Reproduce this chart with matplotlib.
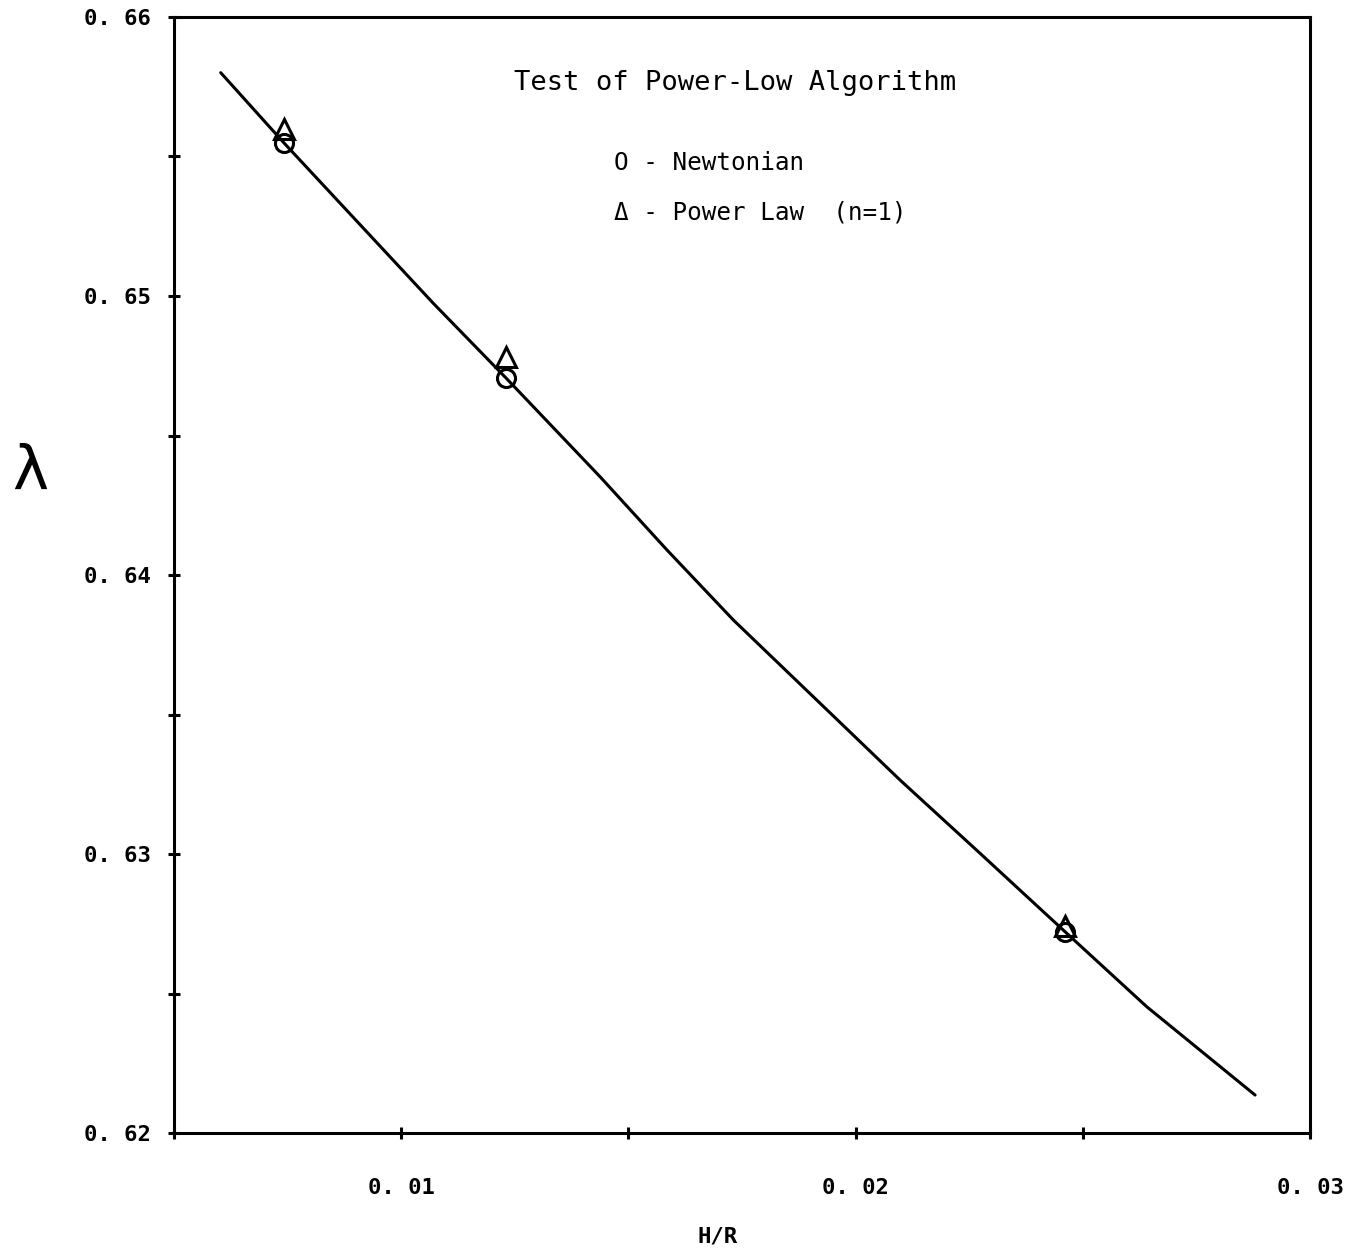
import matplotlib
matplotlib.use("Agg")
import matplotlib.pyplot as plt
from matplotlib.ticker import MultipleLocator, FixedLocator, FixedFormatter

# Fitted curve lambda vs H/R
curve_x = [0.006028, 0.007421, 0.010706, 0.012306, 0.014375, 0.015849,
           0.017309, 0.020977, 0.022738, 0.024608, 0.026406, 0.028790]
curve_y = [0.658004, 0.655484, 0.649738, 0.647061, 0.643523, 0.640896,
           0.638387, 0.632652, 0.630025, 0.627215, 0.624527, 0.621362]

# Computed points
hr_points = [0.007421, 0.012306, 0.024608]
newtonian = [0.655484, 0.647061, 0.627204]
power_law = [0.655986, 0.647796, 0.627419]

x_ticks = [0.01, 0.02, 0.03]
x_tick_labels = ["0. 01", "0. 02", "0. 03"]
y_ticks = [0.62, 0.63, 0.64, 0.65, 0.66]
y_tick_labels = ["0. 62", "0. 63", "0. 64", "0. 65", "0. 66"]

title_text = "Test of Power-Low Algorithm"
legend_lines = ["O - Newtonian", "Δ - Power Law  (n=1)"]

mono = ["DejaVu Sans Mono"]

fig = plt.figure(figsize=(13.52, 12.48), dpi=100)
ax = fig.add_axes([0.1287, 0.0921, 0.8403, 0.8943])

ax.plot(curve_x, curve_y, color="black", lw=2.2, solid_capstyle="round",
        solid_joinstyle="round")
ax.plot(hr_points, newtonian, linestyle="none", marker="o", ms=13,
        mfc="none", mec="black", mew=2.2)
ax.plot(hr_points, power_law, linestyle="none", marker="^", ms=14,
        mfc="none", mec="black", mew=2.2)

ax.set_xlim(0.005, 0.03)
ax.set_ylim(0.62, 0.66)

ax.xaxis.set_major_locator(FixedLocator(x_ticks))
ax.xaxis.set_major_formatter(FixedFormatter(x_tick_labels))
ax.xaxis.set_minor_locator(MultipleLocator(0.005))
ax.yaxis.set_major_locator(FixedLocator(y_ticks))
ax.yaxis.set_major_formatter(FixedFormatter(y_tick_labels))
ax.yaxis.set_minor_locator(MultipleLocator(0.005))

for s in ax.spines.values():
    s.set_linewidth(2.2)

ax.tick_params(which="both", direction="inout", length=9, width=2.2,
               labelsize=16)
ax.tick_params(axis="x", which="both", pad=28)
ax.tick_params(axis="y", which="both", pad=12)
for lab in ax.get_xticklabels() + ax.get_yticklabels():
    lab.set_fontfamily(mono)
    lab.set_fontweight("bold")

# Axis titles
fig.text(718 / 1352, 1 - 1237 / 1248, "H/R", ha="center", va="center",
         fontsize=16, family=mono, fontweight="bold")
fig.text(30 / 1352, 1 - 472 / 1248, "λ", ha="center", va="center",
         fontsize=44, family=["DejaVu Sans"])

# Annotation block
ax.text(0.494, 0.941, title_text, transform=ax.transAxes, ha="center",
        va="center", fontsize=19.5, family=mono)
ax.text(0.387, 0.869, legend_lines[0], transform=ax.transAxes, ha="left",
        va="center", fontsize=17.5, family=mono)
ax.text(0.387, 0.825, legend_lines[1], transform=ax.transAxes, ha="left",
        va="center", fontsize=17.5, family=mono)

fig.savefig("out.png", dpi=100, facecolor="white")
